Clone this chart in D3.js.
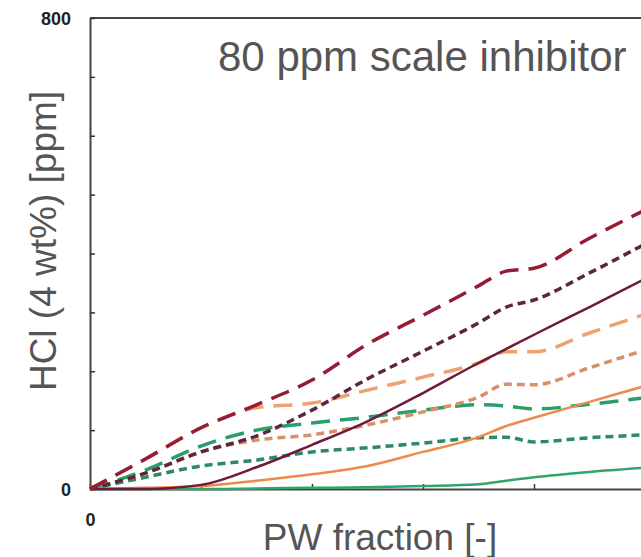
<!DOCTYPE html>
<html>
<head>
<meta charset="utf-8">
<script src="https://cdn.jsdelivr.net/npm/d3@7"></script>
<style>
  body { margin: 0; background: #fff; }
  svg { display: block; font-family: Arial, "Liberation Sans", sans-serif; }
</style>
</head>
<body>
<div id="chart"></div>
<script>
// PW fraction values shared by every curve
const pwFraction = [0, 0.1, 0.2, 0.3, 0.4, 0.5, 0.6, 0.7, 0.75, 0.8, 0.9, 1.0];

// HCl (ppm)
const maroonLong  = [0, 51, 104, 143, 185, 246, 295, 345, 370, 375, 426, 474];
const maroonShort = [0, 27, 63, 90, 134, 187, 234, 282, 309, 321, 367, 416];
const maroonSolid = [0, 0, 7, 37, 75, 115, 163, 214, 238, 262, 309, 357];
const orangeLong  = [0, 51, 104, 138, 146, 168, 190, 214, 233, 233, 265, 297];
const orangeShort = [0, 27, 63, 83, 92, 109, 131, 156, 178, 177, 206, 236];
const orangeSolid = [0, 2, 5, 14, 25, 39, 63, 88, 107, 121, 148, 175];
const greenLong   = [0, 32, 73, 100, 112, 122, 134, 143, 141, 136, 144, 155];
const greenShort  = [0, 20, 39, 49, 63, 70, 78, 87, 88, 80, 87, 92];
const greenSolid  = [0, 0, 0, 1, 2, 3, 5, 8, 14, 20, 29, 36];

const xTicks = [0, 0.2, 0.4, 0.6, 0.8, 1.0];
const yTicks = [0, 100, 200, 300, 400, 500, 600, 700, 800];
const xLabelTicks = [0];
const yLabelTicks = [0, 800];

const title = "80 ppm scale inhibitor";
const xTitle = "PW fraction [-]";
const yTitle = "HCl (4 wt%) [ppm]";

const series = [
  {values: greenSolid,  color: "#2ea56a", dash: null},
  {values: greenShort,  color: "#2e8a62", dash: "8,5"},
  {values: greenLong,   color: "#2a9e68", dash: "19,10"},
  {values: orangeSolid, color: "#ee8a4c", dash: null},
  {values: orangeShort, color: "#d8906a", dash: "8,5"},
  {values: orangeLong,  color: "#eea270", dash: "19,10"},
  {values: maroonSolid, color: "#6e1a3c", dash: null},
  {values: maroonShort, color: "#5e2442", dash: "8,5"},
  {values: maroonLong,  color: "#961c36", dash: "19,10"}
];

const margin = {top: 18, left: 90},
      width = 645 - margin.left,
      height = 489 - margin.top;

const svg = d3.select("#chart")
              .append("svg")
              .attr("width", 641)
              .attr("height", 557);

const g = svg.append("g")
             .attr("transform", `translate(${margin.left}, ${margin.top})`);

const x = d3.scaleLinear()
            .domain([0, 1])
            .range([0, width]);

const y = d3.scaleLinear()
            .domain([0, 800])
            .range([height, 0]);

// frame: top border
g.append("line")
 .attr("x1", 0).attr("x2", width)
 .attr("y1", 0).attr("y2", 0)
 .attr("stroke", "#444")
 .attr("stroke-width", 2);

const xAxis = g.append("g")
               .attr("transform", `translate(0, ${height})`)
               .call(d3.axisBottom(x)
                       .tickValues(xTicks)
                       .tickSizeInner(-5)
                       .tickSizeOuter(0)
                       .tickFormat(d => xLabelTicks.includes(d) ? d3.format("d")(d) : ""));

const yAxis = g.append("g")
               .call(d3.axisLeft(y)
                       .tickValues(yTicks)
                       .tickSizeInner(-5)
                       .tickSizeOuter(0)
                       .tickFormat(d => yLabelTicks.includes(d) ? d : ""));

[xAxis, yAxis].forEach(a => {
  a.select(".domain").attr("stroke", "#444").attr("stroke-width", 2);
  a.selectAll(".tick line").attr("stroke", "#333").attr("stroke-width", 1.5);
  a.selectAll("text")
   .attr("fill", "#222")
   .style("font-size", "18px")
   .style("font-weight", "bold");
});
xAxis.selectAll("text").attr("dy", null).attr("y", 37);
yAxis.selectAll("text").attr("x", -19).attr("dy", "0.35em");

const line = d3.line()
               .x((d, i) => x(pwFraction[i]))
               .y(d => y(d))
               .curve(d3.curveMonotoneX);

g.append("g")
 .selectAll("path")
 .data(series)
 .join("path")
 .attr("d", d => line(d.values))
 .attr("fill", "none")
 .attr("stroke", d => d.color)
 .attr("stroke-width", d => d.dash ? 3.5 : 2.5)
 .attr("stroke-dasharray", d => d.dash);

svg.append("text")
   .attr("x", 218)
   .attr("y", 71)
   .attr("fill", "#555")
   .style("font-size", "42px")
   .text(title);

svg.append("text")
   .attr("x", 380)
   .attr("y", 550)
   .attr("text-anchor", "middle")
   .attr("fill", "#555")
   .style("font-size", "37px")
   .text(xTitle);

svg.append("text")
   .attr("transform", "translate(56, 241) rotate(-90)")
   .attr("text-anchor", "middle")
   .attr("fill", "#555")
   .style("font-size", "37px")
   .text(yTitle);
</script>
</body>
</html>
